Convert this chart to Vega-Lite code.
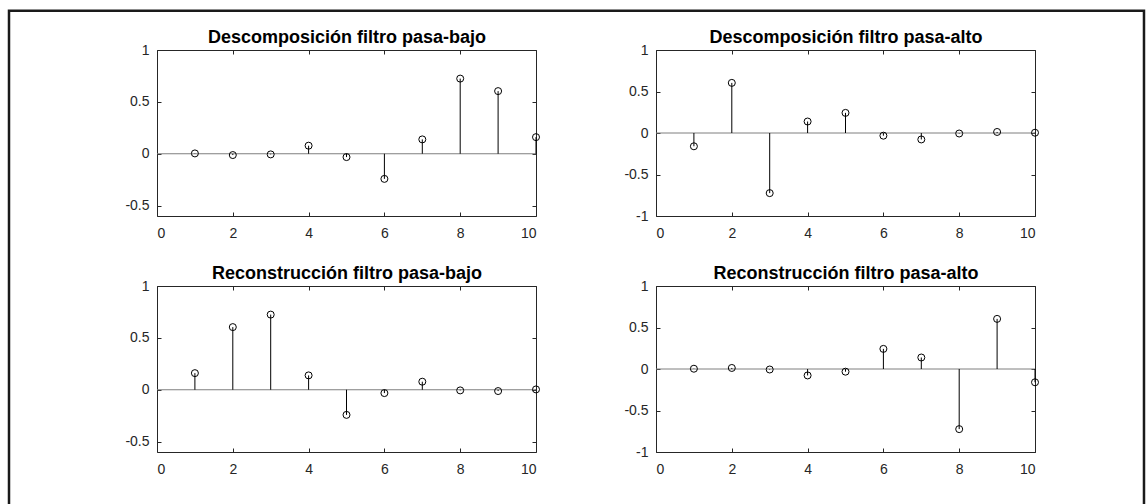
{
  "$schema": "https://vega.github.io/schema/vega-lite/v6.json",
  "padding": {"left": 7, "top": 8, "right": 0, "bottom": 0},
  "background": "white",
  "config": {
    "font": "Liberation Sans",
    "view": {"stroke": "#262626", "strokeWidth": 1},
    "axis": {
      "domain": false,
      "grid": false,
      "ticks": true,
      "tickSize": -4,
      "tickColor": "#262626",
      "tickWidth": 1,
      "labelColor": "#262626",
      "labelFontSize": 14,
      "labelFont": "Liberation Sans",
      "titleFont": "Liberation Sans",
      "titleFontSize": 18,
      "titleFontWeight": "bold",
      "titleColor": "#000000",
      "titlePadding": 3
    }
  },
  "datasets": {
    "lod": [
      {"n": 1, "v": 0.0033}, {"n": 2, "v": -0.0126}, {"n": 3, "v": -0.0062}, {"n": 4, "v": 0.0776}, {"n": 5, "v": -0.0322},
      {"n": 6, "v": -0.2423}, {"n": 7, "v": 0.1384}, {"n": 8, "v": 0.7243}, {"n": 9, "v": 0.6038}, {"n": 10, "v": 0.1601}
    ],
    "hid": [
      {"n": 1, "v": -0.1601}, {"n": 2, "v": 0.6038}, {"n": 3, "v": -0.7243}, {"n": 4, "v": 0.1384}, {"n": 5, "v": 0.2423},
      {"n": 6, "v": -0.0322}, {"n": 7, "v": -0.0776}, {"n": 8, "v": -0.0062}, {"n": 9, "v": 0.0126}, {"n": 10, "v": 0.0033}
    ],
    "lor": [
      {"n": 1, "v": 0.1601}, {"n": 2, "v": 0.6038}, {"n": 3, "v": 0.7243}, {"n": 4, "v": 0.1384}, {"n": 5, "v": -0.2423},
      {"n": 6, "v": -0.0322}, {"n": 7, "v": 0.0776}, {"n": 8, "v": -0.0062}, {"n": 9, "v": -0.0126}, {"n": 10, "v": 0.0033}
    ],
    "hir": [
      {"n": 1, "v": 0.0033}, {"n": 2, "v": 0.0126}, {"n": 3, "v": -0.0062}, {"n": 4, "v": -0.0776}, {"n": 5, "v": -0.0322},
      {"n": 6, "v": 0.2423}, {"n": 7, "v": 0.1384}, {"n": 8, "v": -0.7243}, {"n": 9, "v": 0.6038}, {"n": 10, "v": -0.1601}
    ],
    "one": [{"k": 0}]
  },
  "bounds": "flush",
  "columns": 2,
  "spacing": {"row": 70, "column": 120},
  "concat": [
    {
      "width": 379, "height": 166,
      "layer": [
        {
          "data": {"name": "one"},
          "mark": {"type": "rect", "fill": null, "stroke": "#1a1a1a", "strokeWidth": 2.5, "clip": false},
          "encoding": {
            "x": {"datum": -3.905, "type": "quantitative", "scale": {"domain": [0, 10]}, "axis": null},
            "x2": {"datum": 26.042},
            "y": {"datum": 1.3795, "type": "quantitative", "scale": {"domain": [-0.5, 1]}, "axis": null},
            "y2": {"datum": -3.5}
          }
        },
        {
          "data": {"name": "one"},
          "mark": {"type": "rule", "color": "#7f7f7f", "strokeWidth": 1},
          "encoding": {"y": {"datum": 0, "type": "quantitative", "axis": null}}
        },
        {
          "data": {"name": "lod"},
          "mark": {"type": "rule", "color": "#000000", "strokeWidth": 1},
          "encoding": {
            "x": {"field": "n", "type": "quantitative", "axis": {"orient": "bottom", "title": null, "values": [0, 2, 4, 6, 8, 10], "labelPadding": 14, "labelExpr": "'' + datum.value"}},
            "y": {"field": "v", "type": "quantitative", "axis": {"orient": "left", "title": null, "values": [-0.5, 0, 0.5, 1], "labelPadding": 12, "labelExpr": "'' + datum.value"}},
            "y2": {"datum": 0}
          }
        },
        {
          "data": {"name": "lod"},
          "mark": {"type": "point", "shape": "circle", "filled": false, "size": 49, "color": "#000000", "strokeWidth": 1, "opacity": 1},
          "encoding": {
            "x": {"field": "n", "type": "quantitative", "axis": {"orient": "top", "title": "Descomposición filtro pasa-bajo", "values": [0, 2, 4, 6, 8, 10], "labels": false}},
            "y": {"field": "v", "type": "quantitative", "axis": {"orient": "right", "title": null, "values": [-0.5, 0, 0.5, 1], "labels": false}}
          }
        }
      ],
      "resolve": {"axis": {"x": "independent", "y": "independent"}}
    },
    {
      "width": 379, "height": 166,
      "layer": [
        {
          "data": {"name": "one"},
          "mark": {"type": "rule", "color": "#7f7f7f", "strokeWidth": 1},
          "encoding": {"y": {"datum": 0, "type": "quantitative", "scale": {"domain": [-1, 1]}, "axis": null}}
        },
        {
          "data": {"name": "hid"},
          "mark": {"type": "rule", "color": "#000000", "strokeWidth": 1},
          "encoding": {
            "x": {"field": "n", "type": "quantitative", "scale": {"domain": [0, 10]}, "axis": {"orient": "bottom", "title": null, "values": [0, 2, 4, 6, 8, 10], "labelPadding": 14, "labelExpr": "'' + datum.value"}},
            "y": {"field": "v", "type": "quantitative", "axis": {"orient": "left", "title": null, "values": [-1, -0.5, 0, 0.5, 1], "labelPadding": 12, "labelExpr": "'' + datum.value"}},
            "y2": {"datum": 0}
          }
        },
        {
          "data": {"name": "hid"},
          "mark": {"type": "point", "shape": "circle", "filled": false, "size": 49, "color": "#000000", "strokeWidth": 1, "opacity": 1},
          "encoding": {
            "x": {"field": "n", "type": "quantitative", "axis": {"orient": "top", "title": "Descomposición filtro pasa-alto", "values": [0, 2, 4, 6, 8, 10], "labels": false}},
            "y": {"field": "v", "type": "quantitative", "axis": {"orient": "right", "title": null, "values": [-1, -0.5, 0, 0.5, 1], "labels": false}}
          }
        }
      ],
      "resolve": {"axis": {"x": "independent", "y": "independent"}}
    },
    {
      "width": 379, "height": 166,
      "layer": [
        {
          "data": {"name": "one"},
          "mark": {"type": "rule", "color": "#7f7f7f", "strokeWidth": 1},
          "encoding": {"y": {"datum": 0, "type": "quantitative", "scale": {"domain": [-0.5, 1]}, "axis": null}}
        },
        {
          "data": {"name": "lor"},
          "mark": {"type": "rule", "color": "#000000", "strokeWidth": 1},
          "encoding": {
            "x": {"field": "n", "type": "quantitative", "scale": {"domain": [0, 10]}, "axis": {"orient": "bottom", "title": null, "values": [0, 2, 4, 6, 8, 10], "labelPadding": 14, "labelExpr": "'' + datum.value"}},
            "y": {"field": "v", "type": "quantitative", "axis": {"orient": "left", "title": null, "values": [-0.5, 0, 0.5, 1], "labelPadding": 12, "labelExpr": "'' + datum.value"}},
            "y2": {"datum": 0}
          }
        },
        {
          "data": {"name": "lor"},
          "mark": {"type": "point", "shape": "circle", "filled": false, "size": 49, "color": "#000000", "strokeWidth": 1, "opacity": 1},
          "encoding": {
            "x": {"field": "n", "type": "quantitative", "axis": {"orient": "top", "title": "Reconstrucción filtro pasa-bajo", "values": [0, 2, 4, 6, 8, 10], "labels": false}},
            "y": {"field": "v", "type": "quantitative", "axis": {"orient": "right", "title": null, "values": [-0.5, 0, 0.5, 1], "labels": false}}
          }
        }
      ],
      "resolve": {"axis": {"x": "independent", "y": "independent"}}
    },
    {
      "width": 379, "height": 166,
      "layer": [
        {
          "data": {"name": "one"},
          "mark": {"type": "rule", "color": "#7f7f7f", "strokeWidth": 1},
          "encoding": {"y": {"datum": 0, "type": "quantitative", "scale": {"domain": [-1, 1]}, "axis": null}}
        },
        {
          "data": {"name": "hir"},
          "mark": {"type": "rule", "color": "#000000", "strokeWidth": 1},
          "encoding": {
            "x": {"field": "n", "type": "quantitative", "scale": {"domain": [0, 10]}, "axis": {"orient": "bottom", "title": null, "values": [0, 2, 4, 6, 8, 10], "labelPadding": 14, "labelExpr": "'' + datum.value"}},
            "y": {"field": "v", "type": "quantitative", "axis": {"orient": "left", "title": null, "values": [-1, -0.5, 0, 0.5, 1], "labelPadding": 12, "labelExpr": "'' + datum.value"}},
            "y2": {"datum": 0}
          }
        },
        {
          "data": {"name": "hir"},
          "mark": {"type": "point", "shape": "circle", "filled": false, "size": 49, "color": "#000000", "strokeWidth": 1, "opacity": 1},
          "encoding": {
            "x": {"field": "n", "type": "quantitative", "axis": {"orient": "top", "title": "Reconstrucción filtro pasa-alto", "values": [0, 2, 4, 6, 8, 10], "labels": false}},
            "y": {"field": "v", "type": "quantitative", "axis": {"orient": "right", "title": null, "values": [-1, -0.5, 0, 0.5, 1], "labels": false}}
          }
        }
      ],
      "resolve": {"axis": {"x": "independent", "y": "independent"}}
    }
  ]
}
